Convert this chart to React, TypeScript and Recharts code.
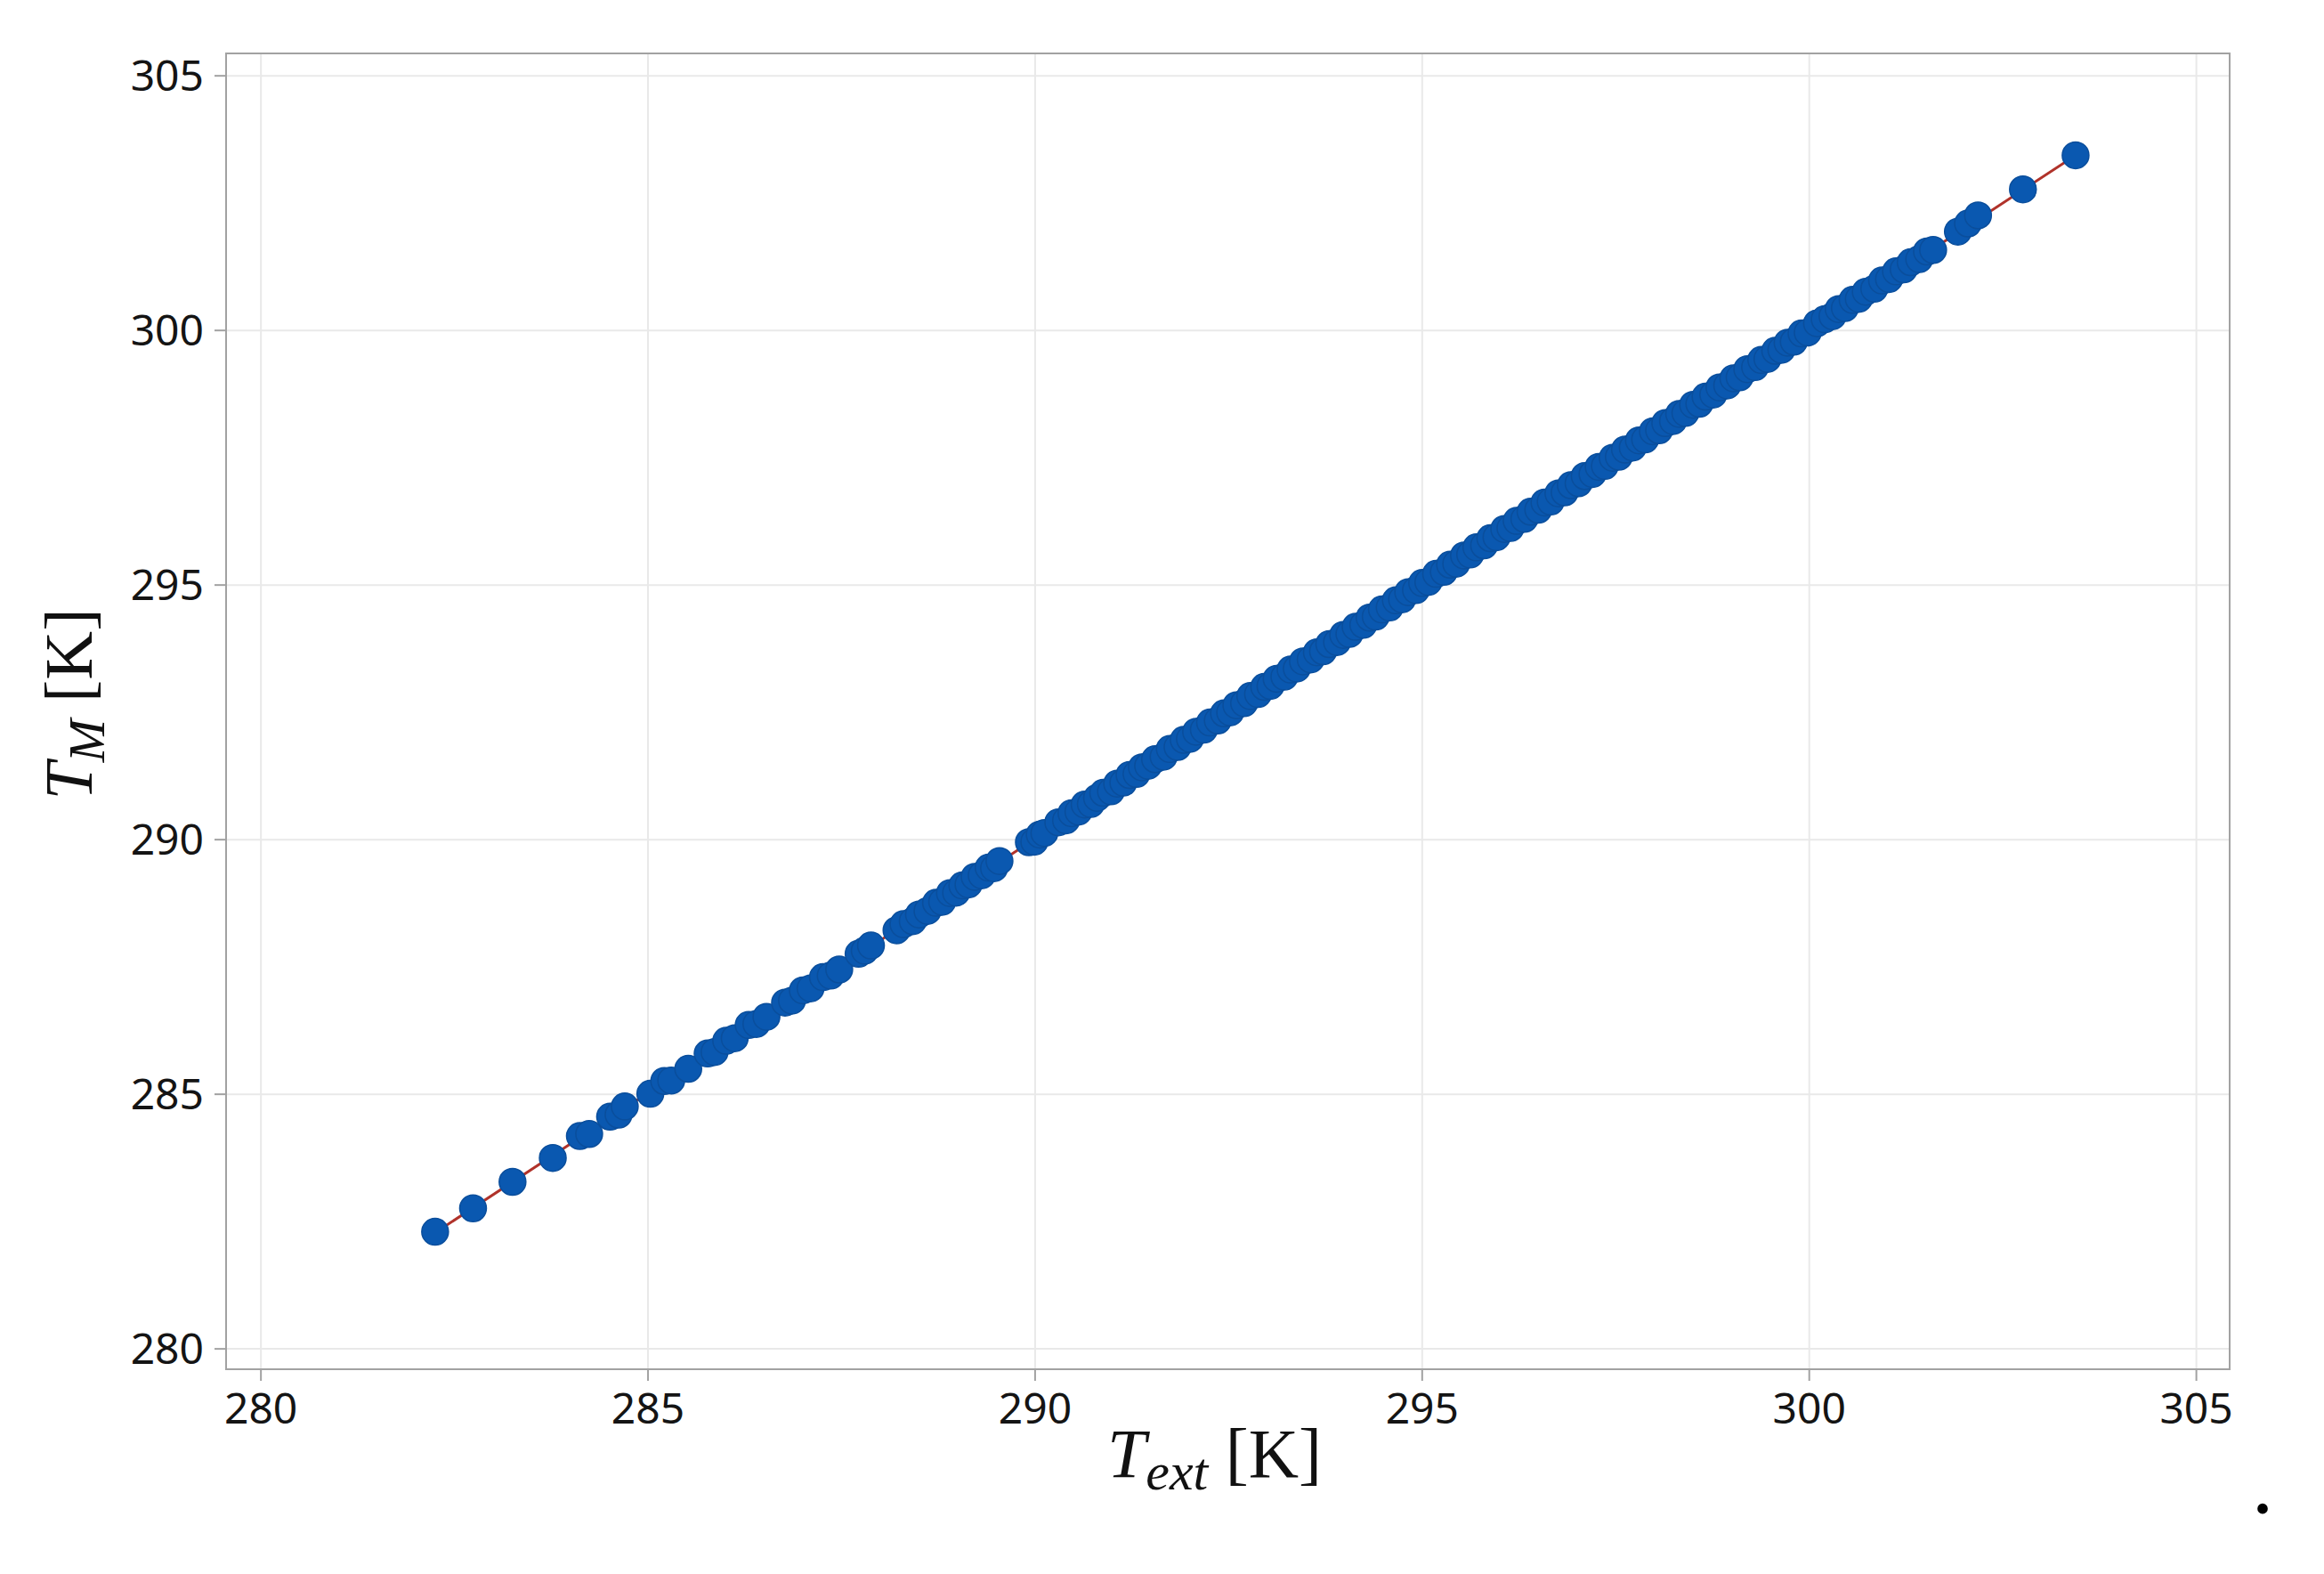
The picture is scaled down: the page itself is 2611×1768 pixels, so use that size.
import React from "react";
import {
  ScatterChart,
  Scatter,
  XAxis,
  YAxis,
  CartesianGrid,
  ReferenceArea,
  Label,
} from "recharts";

const tExt = [
  282.25, 282.74, 283.25, 283.77, 284.12, 284.24, 284.51, 284.62, 284.7, 285.03,
  285.21, 285.3, 285.52, 285.77, 285.86, 286.01, 286.12, 286.3, 286.4, 286.53,
  286.77, 286.86, 287.0, 287.1, 287.26, 287.36, 287.47, 287.72, 287.8, 287.88,
  288.21, 288.3, 288.42, 288.5, 288.61, 288.72, 288.8, 288.9, 288.98, 289.06,
  289.14, 289.22, 289.31, 289.4, 289.47, 289.54, 289.92, 289.99, 290.06, 290.12,
  290.3, 290.4, 290.47, 290.56, 290.64, 290.72, 290.8, 290.88, 290.98, 291.06,
  291.14, 291.22, 291.31, 291.38, 291.46, 291.55, 291.66, 291.74, 291.84, 291.92,
  292.0, 292.08, 292.18, 292.26, 292.36, 292.44, 292.52, 292.6, 292.7, 292.78,
  292.88, 292.96, 293.04, 293.12, 293.22, 293.3, 293.38, 293.46, 293.56, 293.64,
  293.72, 293.8, 293.9, 293.98, 294.06, 294.14, 294.24, 294.32, 294.4, 294.48,
  294.58, 294.66, 294.74, 294.82, 294.92, 295.0, 295.08, 295.18, 295.28, 295.36,
  295.44, 295.54, 295.62, 295.7, 295.8, 295.88, 295.96, 296.06, 296.14, 296.22,
  296.32, 296.4, 296.5, 296.58, 296.66, 296.76, 296.84, 296.92, 297.02, 297.1,
  297.2, 297.28, 297.36, 297.46, 297.54, 297.62, 297.72, 297.8, 297.88, 297.98,
  298.06, 298.14, 298.24, 298.32, 298.4, 298.5, 298.58, 298.66, 298.76, 298.84,
  298.94, 299.02, 299.1, 299.2, 299.3, 299.38, 299.46, 299.56, 299.64, 299.72,
  299.8, 299.9, 299.98, 300.1, 300.2, 300.3, 300.38, 300.46, 300.56, 300.64,
  300.73, 300.84, 300.94, 301.03, 301.12, 301.22, 301.31, 301.42, 301.52, 301.6,
  301.92, 302.05, 302.18, 302.76, 303.44,
];

// T_M [K] of each measurement, same order
const tM = [
  282.3, 282.76, 283.28, 283.75, 284.18, 284.22, 284.56, 284.6, 284.76, 285.01,
  285.26, 285.27, 285.5, 285.8, 285.83, 286.05, 286.1, 286.36, 286.38, 286.52,
  286.8, 286.84, 287.04, 287.08, 287.3, 287.33, 287.45, 287.76, 287.82, 287.92,
  288.22, 288.34, 288.4, 288.53, 288.6, 288.76, 288.78, 288.95, 288.96, 289.1,
  289.12, 289.27, 289.3, 289.45, 289.44, 289.58, 289.95, 289.96, 290.1, 290.13,
  290.34, 290.38, 290.52, 290.55, 290.69, 290.7, 290.82, 290.92, 290.95, 291.1,
  291.12, 291.27, 291.29, 291.42, 291.45, 291.58, 291.63, 291.78, 291.82, 291.96,
  291.98, 292.12, 292.16, 292.3, 292.34, 292.48, 292.5, 292.64, 292.68, 292.82,
  292.86, 293.0, 293.02, 293.16, 293.2, 293.34, 293.36, 293.5, 293.54, 293.68,
  293.7, 293.84, 293.88, 294.02, 294.04, 294.18, 294.22, 294.36, 294.38, 294.52,
  294.56, 294.7, 294.72, 294.86, 294.9, 295.04, 295.06, 295.22, 295.26, 295.4,
  295.42, 295.58, 295.6, 295.74, 295.78, 295.92, 295.94, 296.1, 296.12, 296.26,
  296.3, 296.44, 296.48, 296.62, 296.64, 296.8, 296.82, 296.96, 297.0, 297.14,
  297.18, 297.32, 297.34, 297.5, 297.52, 297.66, 297.7, 297.84, 297.86, 298.02,
  298.04, 298.18, 298.22, 298.36, 298.38, 298.54, 298.56, 298.7, 298.74, 298.88,
  298.92, 299.06, 299.08, 299.24, 299.28, 299.42, 299.44, 299.6, 299.62, 299.76,
  299.78, 299.94, 299.96, 300.14, 300.22, 300.28, 300.42, 300.44, 300.6, 300.62,
  300.76, 300.82, 300.98, 301.01, 301.16, 301.2, 301.34, 301.4, 301.55, 301.58,
  301.94, 302.1, 302.26, 302.77, 303.44,
];

// fitted line end points
const fitExt = [282.25, 303.44];
const fitM = [282.28, 303.44];

const xTicks = [280, 285, 290, 295, 300, 305];
const yTicks = [280, 285, 290, 295, 300, 305];
const xDomain = [279.55, 305.43];
const yDomain = [279.6, 305.44];

const points = tExt.map((x, i) => ({ x, y: tM[i] }));
const fitPoints = fitExt.map((x, i) => ({ x, y: fitM[i] }));

const AXIS_GREY = "#a2a2a2";
const tickStyle = { fill: "#141414", fontSize: 48, fontFamily: "'Noto Sans', sans-serif" };
const serif = "'Liberation Serif', 'Times New Roman', serif";

const Dot = (props: any) => (
  <circle cx={props.cx} cy={props.cy} r={15} fill="#0a58b0" stroke="#0a4e9c" strokeWidth={1.5} />
);
const NoDot = () => <g />;

const XTitle = ({ viewBox }: any) => {
  const cx = viewBox.x + viewBox.width / 2 - 15;
  const y = viewBox.y + 121;
  return (
    <text x={cx} y={y} textAnchor="middle" fontFamily={serif} fontSize={78} fill="#111">
      <tspan fontStyle="italic">T</tspan>
      <tspan fontStyle="italic" fontSize={60} dy={14}>ext</tspan>
      <tspan dy={-14}>{"\u00a0[K]"}</tspan>
    </text>
  );
};

const YTitle = ({ viewBox }: any) => {
  const x = viewBox.x + 49;
  const cy = viewBox.y + viewBox.height / 2 - 8;
  return (
    <text
      x={x}
      y={cy}
      transform={`rotate(-90, ${x}, ${cy})`}
      textAnchor="middle"
      fontFamily={serif}
      fontSize={76}
      fill="#111"
    >
      <tspan fontStyle="italic">T</tspan>
      <tspan fontStyle="italic" fontSize={58} dy={14}>M</tspan>
      <tspan dy={-14}>{"\u00a0[K]"}</tspan>
    </text>
  );
};

export default function App() {
  return (
    <div style={{ position: "absolute", left: 0, top: 0, width: 2611, height: 1768, background: "#fff" }}>
      <ScatterChart
        width={2611}
        height={1768}
        margin={{ top: 60, right: 106, bottom: 80, left: 54 }}
      >
        <CartesianGrid stroke="#e9e9e9" strokeWidth={2} />
        <XAxis
          type="number"
          dataKey="x"
          domain={xDomain}
          ticks={xTicks}
          allowDataOverflow
          height={150}
          tick={tickStyle}
          tickSize={13}
          tickMargin={14}
          tickLine={{ stroke: AXIS_GREY, strokeWidth: 2 }}
          axisLine={{ stroke: AXIS_GREY, strokeWidth: 2 }}
        >
          <Label content={XTitle} />
        </XAxis>
        <YAxis
          type="number"
          dataKey="y"
          domain={yDomain}
          ticks={yTicks}
          allowDataOverflow
          width={200}
          tick={tickStyle}
          tickSize={13}
          tickMargin={12}
          tickLine={{ stroke: AXIS_GREY, strokeWidth: 2 }}
          axisLine={{ stroke: AXIS_GREY, strokeWidth: 2 }}
        >
          <Label content={YTitle} />
        </YAxis>
        <ReferenceArea
          x1={xDomain[0]}
          x2={xDomain[1]}
          y1={yDomain[0]}
          y2={yDomain[1]}
          fill="none"
          fillOpacity={0}
          stroke={AXIS_GREY}
          strokeWidth={2}
          ifOverflow="visible"
        />
        {/* fitted line under the points */}
        <Scatter
          data={fitPoints}
          line={{ stroke: "#b0322a", strokeWidth: 3 }}
          shape={NoDot}
          isAnimationActive={false}
        />
        <Scatter data={points} shape={Dot} isAnimationActive={false} />
      </ScatterChart>
      <svg
        width={2611}
        height={1768}
        style={{ position: "absolute", left: 0, top: 0, pointerEvents: "none" }}
      >
        <text x={2533} y={1700} fontFamily={serif} fontSize={72} fontWeight="bold" fill="#000">
          .
        </text>
      </svg>
    </div>
  );
}
